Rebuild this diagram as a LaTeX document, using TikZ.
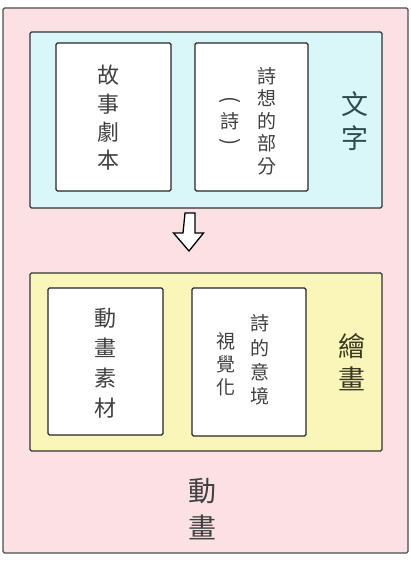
\documentclass[tikz,border=0pt]{standalone}
\usepackage{fontspec}
\newfontfamily\cjk{Noto Sans CJK TC}
\definecolor{pinkbg}{HTML}{FCE1E4}
\definecolor{cyanbg}{HTML}{D9F6F9}
\definecolor{yelbg}{HTML}{FAF6B9}
\definecolor{txtgray}{HTML}{404040}
\definecolor{tealtxt}{HTML}{2E4A4C}
\definecolor{olivetxt}{HTML}{3A3A1E}
\tikzset{
  panel/.style={draw=black!80, line width=1.3pt, rounded corners=1.5pt, inner sep=0pt},
  card/.style={draw=black!85, line width=1.3pt, fill=white, rounded corners=1.5pt, inner sep=0pt},
  vtext/.style={inner sep=0pt, align=center, text=txtgray},
}
\begin{document}
\begin{tikzpicture}[x=1pt,y=-1pt]
\useasboundingbox (0,0) rectangle (410,561);
\fill[white] (0,0) rectangle (410,561);
% outer
\node[panel, fill=pinkbg, draw=black!70, minimum width=405pt, minimum height=545pt] (outer) at (205.5,280.5) {};
% top panel
\node[panel, fill=cyanbg, minimum width=352pt, minimum height=176pt] (top) at (206,120) {};
\node[card, minimum width=115pt, minimum height=148pt] (b1) at (113.5,117) {};
\node[card, minimum width=113pt, minimum height=148pt] (b2) at (251.5,117) {};
\node[vtext, font=\cjk\fontsize{22}{28.3}\selectfont] (t1) at (108,118) {故\\事\\劇\\本};
\node[vtext, font=\cjk\fontsize{19}{22.5}\selectfont] (t2a) at (267,121) {詩\\想\\的\\部\\分};
\node[vtext, font=\cjk\fontsize{19}{20}\selectfont] (t2b) at (230,121) {詩};
\node[vtext, font=\cjk\fontsize{21}{20}\selectfont, rotate=-90] (p1) at (230,100) {(};
\node[vtext, font=\cjk\fontsize{21}{20}\selectfont, rotate=-90] (p2) at (230,142) {)};
\node[vtext, text=tealtxt, font=\cjk\fontsize{27}{34}\selectfont] (wz) at (355,121) {文\\字};
% arrow
\coordinate (arrtop) at (188,213);
\draw[black, line width=1.3pt, fill=white, line join=miter]
  (185,213) -- (195,213) -- (195,233) -- (203.5,233) -- (189,251) -- (173.5,233) -- (183,233) -- cycle;
% bottom panel
\node[panel, fill=yelbg, minimum width=352pt, minimum height=178pt] (bot) at (206,362) {};
\node[card, minimum width=115pt, minimum height=147pt] (b3) at (105.5,361.5) {};
\node[card, minimum width=114pt, minimum height=148pt] (b4) at (249,362) {};
\node[vtext, font=\cjk\fontsize{22}{30}\selectfont] (t3) at (105,363) {動\\畫\\素\\材};
\node[vtext, font=\cjk\fontsize{19}{24.3}\selectfont] (t4a) at (260,360) {詩\\的\\意\\境};
\node[vtext, font=\cjk\fontsize{19}{23}\selectfont] (t4b) at (226,364) {視\\覺\\化};
\node[vtext, text=olivetxt, font=\cjk\fontsize{27}{33}\selectfont] (hh) at (352,362) {繪\\畫};
\node[vtext, font=\cjk\fontsize{28}{37}\selectfont] (dh) at (202,509) {動\\畫};
\end{tikzpicture}
\end{document}
